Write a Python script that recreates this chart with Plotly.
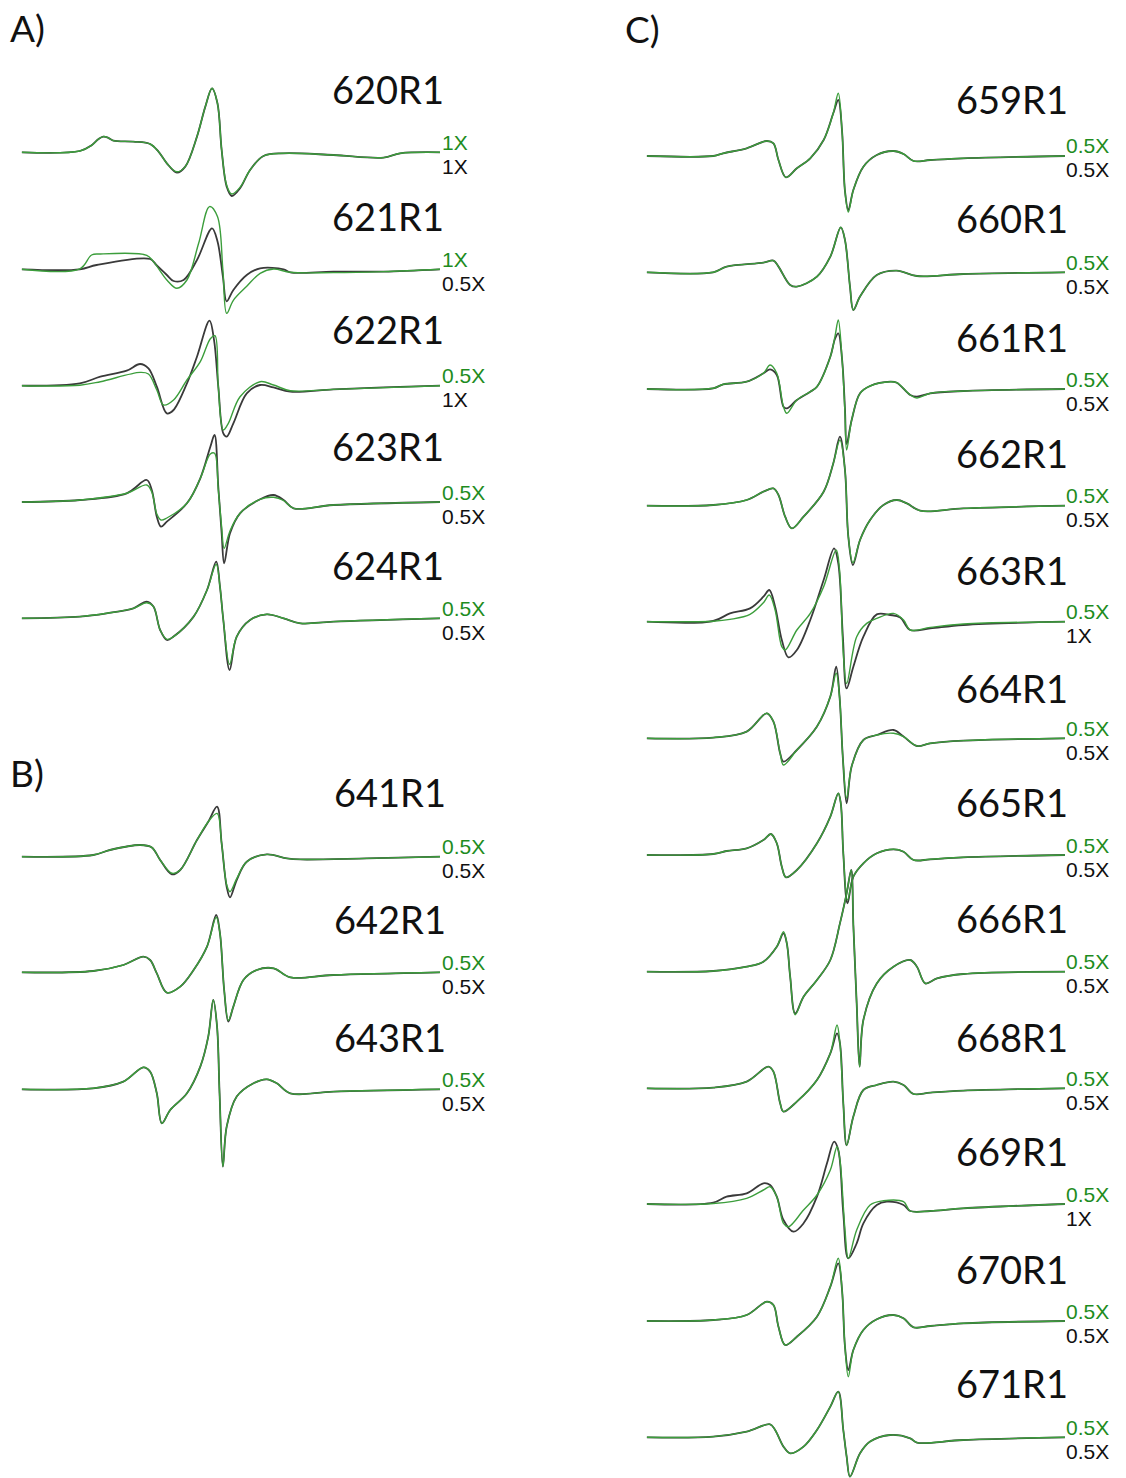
import plotly.graph_objects as go

# ---------------- data: field position (% of sweep) and derivative amplitude (a.u.) ----------------
# Panel A
S620_x = [0, 13.9, 16.7, 18.3, 19.5, 20.7, 21.9, 26.7, 30.7, 32.7, 34.7, 37.1, 39.1, 41.9, 43.9, 45.5, 46.8, 47.8, 49.0, 50.2, 52.2, 54.6, 57.8, 62.6, 74.5, 86.5, 90.5, 100]
S620_k = [0, 1.3, 7, 13, 15.7, 14.5, 11.7, 10.7, 8.3, 0.7, -11, -20.3, -14.3, 15.7, 45.7, 64, 49, 2.3, -34.3, -43.7, -36, -17.7, -3.7, -1, -2.7, -5.3, -1, 0]
S620_g = [0, 1.3, 7, 13, 15.7, 14.5, 11.7, 10.7, 8.3, 0.7, -11, -19.5, -14.3, 15.7, 45.7, 64, 49, 2.3, -33, -41.7, -35, -17.7, -3.7, -1, -2.7, -5.3, -1, 0]

S621_kx = [0, 13.9, 17.9, 30.7, 32.2, 34.7, 36.3, 38.7, 41.9, 45.5, 46.8, 48.1, 49.0, 50.6, 53.8, 57.0, 62.6, 64.2, 74.5, 86.5, 100]
S621_k = [0, 0, 4.3, 10.3, 4.3, -5.7, -11.7, -10.7, 9.3, 41, 28, -7.3, -32, -20.7, -5.7, 1, 0, -3, -2.3, -2.3, 0]
S621_gx = [0, 13.9, 16.7, 18.8, 29.9, 31.5, 34.7, 37.1, 39.5, 42.3, 44.9, 46.8, 48.1, 49.0, 50.6, 53.8, 57.0, 60.2, 64.2, 74.5, 86.5, 100]
S621_g = [0, 0.5, 14.3, 15.3, 14, 7.7, -10.7, -19, -10.7, 26, 62.7, 52.7, -0.7, -44, -31, -17, -4, 0.3, -3, -3.3, -2.3, 0]

S622_kx = [0, 13.9, 18.8, 25.1, 28.3, 30.3, 32.3, 34.7, 36.3, 39.5, 41.9, 44.9, 46.0, 47.0, 48.2, 49.0, 50.6, 53.8, 57.0, 60.2, 64.2, 74.5, 86.5, 100]
S622_k = [0, 2.3, 9, 15, 21.7, 17.3, -1, -27.7, -24.3, 2.3, 29, 65, 45, -1, -47.7, -51, -37.7, -7.7, 0.7, -1.7, -6, -3.7, -1.7, 0]
S622_gx = [0, 13.9, 18.8, 28.3, 30.3, 32.3, 33.9, 36.3, 39.5, 42.7, 45.1, 46.2, 47.0, 48.2, 49.4, 52.2, 57.0, 60.2, 64.2, 74.5, 100]
S622_g = [0, 0.5, 4, 13.3, 11.7, -4.3, -19.3, -14.3, 5.7, 24, 47, 50, -1, -44.3, -37.7, -11, 4, 0.7, -5, -3.7, 0]

S623_x = [0, 13.9, 25.1, 29.9, 31.1, 32.3, 33.3, 34.7, 39.5, 42.7, 45.1, 46.1, 47.0, 47.8, 48.4, 49.8, 52.2, 57.0, 60.2, 62.6, 65.0, 74.5, 100]
S623_k = [0, 2, 8.7, 22, 12, -14.7, -24.7, -19.7, -1.3, 23.7, 55.3, 67, 15, -31.3, -61.3, -31.3, -11.3, 2.7, 7, 2, -6.3, -3, 0]
S623_g = [0, 2, 8.7, 17, 10, -12, -18, -16, -1.3, 23.7, 48, 48.7, 12, -25, -46.3, -29, -11.3, 2.7, 4.7, 1.5, -6.3, -3, 0]

S624_x = [0, 13.9, 20.3, 26.7, 29.9, 31.5, 33.1, 34.7, 36.3, 41.1, 44.3, 46.5, 47.4, 48.2, 49.7, 51.4, 54.6, 58.6, 62.6, 66.6, 74.5, 100]
S624_k = [0, 1.7, 5, 10, 16.7, 11.7, -11.7, -21.7, -18.3, 1.7, 28.3, 56.7, 31.7, -1.7, -51.7, -18.3, -1.7, 4, 0, -5, -3.3, 0]
S624_g = [0, 1.7, 5, 10, 15.5, 11.7, -11.7, -21, -18.3, 1.7, 28.3, 54, 31.7, -1.7, -46, -18.3, -1.7, 4, 0, -5, -3.3, 0]

# Panel B
S641_x = [0, 17.1, 21.1, 28.3, 31.1, 33.1, 35.9, 37.9, 41.9, 44.6, 46.7, 47.8, 49.0, 49.8, 51.4, 53.8, 58.6, 63.4, 66.6, 82.5, 100]
S641_k = [0, 1.7, 6.7, 11.7, 9.3, -3.3, -17.7, -13.3, 16.7, 35, 50, 13.3, -30, -40.7, -23.3, -5, 2.3, -1.7, -2.7, -1.7, 0]
S641_g = [0, 1.7, 6.7, 11.7, 9.3, -3.3, -16.5, -13.3, 16.7, 35, 43.3, 13.3, -28, -35, -22, -5, 2.3, -1.7, -2.7, -1.7, 0]

S642_x = [0, 17.1, 24.3, 29.1, 30.7, 32.3, 34.7, 37.9, 41.1, 44.3, 46.5, 47.4, 48.4, 49.4, 50.6, 53.0, 56.2, 60.2, 64.2, 74.5, 100]
S642_k = [0, 1.3, 7.3, 15.7, 12.3, -1, -20.3, -14.3, 2.3, 25.7, 57.3, 39, -17.7, -49.3, -34.3, -7.7, 2.3, 4, -5, -2.7, 0]
S642_g = [0, 1.3, 7.3, 15.7, 12.3, -1, -20.3, -14.3, 2.3, 25.7, 55, 39, -17.7, -48, -34.3, -7.7, 2.3, 4, -5, -2.7, 0]

S643_x = [0, 17.1, 24.3, 29.1, 30.7, 32.3, 33.5, 35.5, 39.5, 42.7, 44.6, 45.8, 46.7, 47.3, 48.1, 49.0, 51.4, 55.4, 58.6, 61.0, 64.2, 74.5, 100]
S643_k = [0, 1, 7.7, 22, 17.7, -4, -34, -20.7, -4, 22.7, 52.7, 89.3, 62.7, -4, -77.3, -37.3, -7.3, 6, 10, 6, -4, -2.3, 0]
S643_g = [0, 1, 7.7, 22, 17.7, -4, -34, -20.7, -4, 22.7, 52.7, 89.3, 62.7, -4, -77.3, -37.3, -7.3, 6, 10, 6, -4, -2.3, 0]

# Panel C
S659_x = [0, 15.9, 18.3, 23.9, 28.7, 30.3, 31.5, 33.3, 35.9, 39.1, 42.3, 44.6, 45.8, 46.7, 47.4, 48.2, 49.4, 51.8, 55.0, 59.0, 61.4, 63.8, 67.8, 75.7, 100]
S659_k = [0, 0, 2.7, 7.7, 15, 12.7, -4, -21.3, -12.3, -2.3, 16, 42.7, 56, 25, -35, -54, -34, -10.7, 1, 5, 2, -5, -4, -2.3, 0]
S659_g = [0, 0, 2.7, 7.7, 15, 12.7, -4, -21.3, -12.3, -2.3, 16, 42.7, 62.7, 25, -35, -56, -34, -10.7, 1, 5, 2, -5, -4, -2.3, 0]

S660_x = [0, 15.9, 19.1, 27.9, 30.3, 31.5, 34.3, 35.9, 40.7, 43.9, 46.4, 47.4, 48.6, 49.4, 51.0, 55.0, 59.8, 64.6, 75.7, 100]
S660_k = [0, 0, 5.7, 9.7, 11.7, 5.7, -12.7, -14.3, -4.3, 15.7, 45, 32.3, -14.3, -37.7, -24.3, -2.7, 1.7, -3.7, -1.7, 0]
S660_g = [0, 0, 5.7, 9.7, 11.7, 5.7, -12.7, -14.3, -4.3, 15.7, 45, 32.3, -14.3, -37.7, -24.3, -2.7, 1.7, -3.7, -1.7, 0]

S661_x = [0, 15.9, 18.3, 23.9, 27.9, 29.5, 31.1, 32.7, 33.5, 35.9, 39.1, 40.7, 43.9, 45.0, 45.8, 46.7, 47.4, 47.8, 49.0, 51.0, 53.4, 58.2, 59.8, 63.0, 64.6, 67.8, 75.7, 100]
S661_k = [0, 0.7, 4.7, 7.3, 15.7, 19.7, 14, -17.7, -19.3, -11, -2.7, 2.3, 32.3, 50, 55.7, 30, -20, -55, -31, -4.3, 3, 7.3, 6.3, -6, -7.7, -4.3, -2, 0]
S661_g = [0, 0.7, 4.7, 7.3, 15.7, 24, 15.7, -17.7, -24.3, -11, -2.7, 2.3, 32.3, 52.3, 69, 30, -24, -61, -31, -4.3, 3, 7.3, 6.3, -6, -9, -4.3, -2, 0]

S662_x = [0, 15.9, 23.9, 27.9, 30.3, 31.5, 33.1, 34.7, 37.5, 42.3, 44.6, 46.2, 47.4, 48.2, 49.3, 51.0, 53.4, 56.6, 59.8, 62.2, 65.4, 75.7, 100]
S662_k = [0, 0.7, 5.7, 14, 17.3, 10.7, -11, -22.7, -11, 14, 42.3, 69, 35.7, -31, -59.3, -34.3, -14.3, 0.7, 5.7, 2.3, -5, -2.7, 0]
S662_g = [0, 0.7, 5.7, 14, 17.3, 10.7, -11, -22.7, -11, 14, 42.3, 65.7, 35.7, -31, -57, -34.3, -14.3, 0.7, 5.7, 2.3, -5, -2.7, 0]

S663_kx = [0, 15.9, 19.9, 24.7, 27.9, 29.3, 30.7, 32.3, 33.9, 35.9, 39.1, 42.3, 44.8, 45.8, 46.9, 47.8, 49.4, 51.8, 55.0, 58.2, 60.6, 63.0, 67.8, 75.7, 100]
S663_k = [0, 0.7, 8.3, 13.3, 25, 31.7, 15, -18.3, -35.7, -28.3, 1.7, 41.7, 73.3, 58.3, -15, -66.7, -45, -15, 7.3, 6.7, 4.3, -8.3, -6.7, -3.3, 0]
S663_gx = [0, 15.9, 19.9, 24.7, 27.9, 29.3, 30.7, 32.3, 33.1, 35.9, 39.1, 42.3, 45.3, 46.1, 47.0, 47.8, 50.2, 52.6, 55.0, 59.0, 61.4, 63.0, 67.8, 75.7, 100]
S663_g = [0, 0.5, 2.3, 7.3, 19, 26.7, 11.7, -25, -28.3, -8.3, 8.3, 35, 71.7, 51.7, -31.7, -61.7, -15, -1.7, 3.3, 8.3, 1.7, -8.3, -5.7, -2.3, 0]

S664_x = [0, 15.9, 23.9, 28.7, 30.3, 31.9, 32.7, 35.9, 40.7, 43.9, 45.3, 46.1, 46.9, 47.8, 49.0, 51.8, 55.0, 59.0, 61.4, 64.6, 67.8, 75.7, 100]
S664_k = [0, 0.7, 6.7, 25, 16.7, -15, -23.3, -11.7, 11.7, 41.7, 71.7, 41.7, -20, -65, -28, -1.7, 3.3, 8.3, 1.7, -7.7, -5, -2.3, 0]
S664_g = [0, 0.7, 6.7, 25, 16.7, -15, -26.7, -11.7, 11.7, 41.7, 65, 41.7, -20, -60, -28, -1.7, 3.3, 5, 1.7, -7.7, -5, -2.3, 0]

S665_x = [0, 15.9, 19.1, 23.9, 27.9, 29.7, 31.1, 32.3, 33.3, 35.9, 40.7, 43.9, 45.8, 46.4, 47.0, 48.0, 49.4, 51.8, 55.0, 59.0, 61.4, 63.8, 67.8, 75.7, 100]
S665_k = [0, 1, 4, 6.7, 15, 21, 11.7, -11.7, -22.3, -15, 11.7, 38.3, 61.7, 51.7, 1.7, -48.3, -21.7, -8.3, 1.7, 5.7, 3.3, -5, -4.3, -2.3, 0]
S665_g = [0, 1, 4, 6.7, 15, 21, 11.7, -11.7, -22.3, -15, 11.7, 38.3, 61.7, 51.7, 1.7, -45, -21.7, -8.3, 1.7, 5.7, 3.3, -5, -4.3, -2.3, 0]

S666_x = [0, 15.9, 23.9, 27.9, 31.1, 32.7, 33.5, 34.3, 35.5, 37.5, 40.7, 43.9, 46.2, 47.8, 48.9, 49.4, 50.2, 50.9, 51.8, 55.0, 59.0, 63.0, 64.6, 66.6, 69.4, 75.7, 100]
S666_k = [0, 0.7, 5, 10, 25, 38.3, 28.3, -5, -41.7, -25, -8.3, 11.7, 48.3, 78.3, 101.7, 47, -32, -95, -48.3, -11.7, 5, 11.7, 5, -11.7, -6.7, -2.3, 0]
S666_g = [0, 0.7, 5, 10, 25, 40, 28.3, -5, -43, -25, -8.3, 11.7, 48.3, 78.3, 101.7, 47, -32, -95, -48.3, -11.7, 5, 11.7, 5, -11.7, -6.7, -2.3, 0]

S668_x = [0, 15.9, 23.9, 29.1, 30.3, 31.9, 32.7, 35.9, 40.7, 43.9, 45.5, 46.2, 47.0, 47.8, 49.4, 51.8, 55.0, 59.0, 61.4, 63.8, 67.8, 75.7, 100]
S668_k = [0, 0.7, 6.7, 21.7, 16.7, -15, -23.3, -13.3, 8.3, 35, 55, 45, -15, -57, -28.3, -1.7, 3.3, 6.7, 3.3, -5.7, -4.3, -2.3, 0]
S668_g = [0, 0.7, 6.7, 21.7, 16.7, -15, -23.3, -13.3, 8.3, 35, 63.3, 45, -15, -57, -28.3, -1.7, 3.3, 6.7, 3.3, -5.7, -4.3, -2.3, 0]

S669_kx = [0, 15.9, 19.1, 23.9, 27.9, 29.5, 31.1, 32.7, 35.1, 37.5, 40.7, 43.1, 44.8, 45.8, 47.0, 48.2, 50.2, 51.8, 55.0, 57.4, 61.4, 63.0, 67.8, 75.7, 100]
S669_k = [0, 1.3, 7.3, 10.7, 20.7, 19, 7.3, -16, -27.7, -19.3, 7.3, 40.7, 62.3, 54, -9.3, -54.3, -39.3, -19.3, -1, 2.3, -1, -7, -7, -4.3, 0]
S669_gx = [0, 15.9, 23.9, 27.9, 29.5, 31.1, 32.7, 33.9, 37.5, 40.7, 43.9, 45.5, 46.2, 47.4, 48.2, 50.2, 53.4, 56.6, 61.4, 63.0, 67.8, 75.7, 100]
S669_g = [0, 0.5, 5.7, 14, 17.3, 7.3, -19.3, -22.7, -6, 9, 34, 57.3, 44, -26, -54.3, -26, -1, 3.3, 2.3, -7, -7, -4.3, 0]

S670_x = [0, 15.9, 23.9, 28.7, 30.3, 31.5, 33.1, 35.9, 40.7, 43.9, 45.8, 46.7, 47.4, 48.2, 49.4, 51.8, 55.0, 59.0, 61.4, 63.8, 67.8, 75.7, 100]
S670_k = [0, 1, 6, 19.3, 16, -5.7, -24, -15.7, 4.3, 34.3, 57.7, 31, -25.7, -49, -29, -9, 1.7, 6, 2.7, -6.3, -5, -2.3, 0]
S670_g = [0, 1, 6, 19.3, 16, -5.7, -24, -15.7, 4.3, 34.3, 62.7, 31, -25.7, -55.7, -29, -9, 1.7, 6, 2.7, -6.3, -5, -2.3, 0]

S671_x = [0, 15.9, 23.9, 29.5, 30.7, 32.7, 34.3, 37.5, 40.7, 43.9, 45.8, 47.0, 47.8, 48.6, 51.0, 53.4, 58.2, 63.0, 64.6, 75.7, 100]
S671_k = [0, 0.7, 5.7, 13, 7.3, -9.3, -16, -9.3, 7.3, 30.7, 45.7, 7.3, -19.3, -39.3, -16, -4.3, 2.3, -1, -5.3, -2.7, 0]
S671_g = [0, 0.7, 5.7, 13, 7.3, -9.3, -16, -9.3, 7.3, 30.7, 45.7, 7.3, -19.3, -39.3, -16, -4.3, 2.3, -1, -5.3, -2.7, 0]

# sample names and scale factors (green / black)
NAMES_LEFT = ["620R1", "621R1", "622R1", "623R1", "624R1", "641R1", "642R1", "643R1"]
GREEN_SCALE_LEFT = ["1X", "1X", "0.5X", "0.5X", "0.5X", "0.5X", "0.5X", "0.5X"]
BLACK_SCALE_LEFT = ["1X", "0.5X", "1X", "0.5X", "0.5X", "0.5X", "0.5X", "0.5X"]
NAMES_RIGHT = ["659R1", "660R1", "661R1", "662R1", "663R1", "664R1", "665R1", "666R1", "668R1", "669R1", "670R1", "671R1"]
GREEN_SCALE_RIGHT = ["0.5X"] * 12
BLACK_SCALE_RIGHT = ["0.5X", "0.5X", "0.5X", "0.5X", "1X", "0.5X", "0.5X", "0.5X", "0.5X", "1X", "0.5X", "0.5X"]
PANEL_LETTERS = ["A)", "B)", "C)"]

# ---------------- layout (positions in page pixels) ----------------
W, H = 1126, 1478
BASE_LEFT = [152.3, 269.3, 385.7, 502, 618.3, 856.7, 972.3, 1089.3]
BASE_RIGHT = [156, 272.3, 389, 505.7, 621.7, 738.3, 855, 971.7, 1088.3, 1204, 1321, 1437.3]
NAME_Y_LEFT = [89, 216, 329, 446, 564.5, 791.5, 919, 1036.6]
NAME_Y_RIGHT = [99, 218, 336.7, 452.5, 570, 687.5, 801.7, 918.3, 1036.7, 1151, 1269, 1382.5]
NAME_X_LEFT = [388, 388, 388, 388, 388, 390, 390, 390]
NAME_X_RIGHT = 1012
LETTER_POS = [(8, 27), (8, 772), (623, 28)]
GREEN_LBL_DY = -10
BLACK_LBL_DY = 14

left_spectra = [
    (S620_x, S620_k, S620_x, S620_g),
    (S621_kx, S621_k, S621_gx, S621_g),
    (S622_kx, S622_k, S622_gx, S622_g),
    (S623_x, S623_k, S623_x, S623_g),
    (S624_x, S624_k, S624_x, S624_g),
    (S641_x, S641_k, S641_x, S641_g),
    (S642_x, S642_k, S642_x, S642_g),
    (S643_x, S643_k, S643_x, S643_g),
]
right_spectra = [
    (S659_x, S659_k, S659_x, S659_g),
    (S660_x, S660_k, S660_x, S660_g),
    (S661_x, S661_k, S661_x, S661_g),
    (S662_x, S662_k, S662_x, S662_g),
    (S663_kx, S663_k, S663_gx, S663_g),
    (S664_x, S664_k, S664_x, S664_g),
    (S665_x, S665_k, S665_x, S665_g),
    (S666_x, S666_k, S666_x, S666_g),
    (S668_x, S668_k, S668_x, S668_g),
    (S669_kx, S669_k, S669_gx, S669_g),
    (S670_x, S670_k, S670_x, S670_g),
    (S671_x, S671_k, S671_x, S671_g),
]

BLACK = "#3a3a3a"
GREEN = "#3c9e3c"
GREEN_TXT = "#1e8c1e"
LINE_SHAPE = dict(shape="spline", smoothing=1.0)

fig = go.Figure()


def add_spectra(spectra, bases, xa):
    for (kx, ky, gx, gy), b in zip(spectra, bases):
        fig.add_trace(go.Scatter(x=kx, y=[v - b for v in ky], mode="lines", xaxis=xa, yaxis="y",
                                 line=dict(color=BLACK, width=1.8, **LINE_SHAPE), hoverinfo="skip"))
        fig.add_trace(go.Scatter(x=gx, y=[v - b for v in gy], mode="lines", xaxis=xa, yaxis="y",
                                 line=dict(color=GREEN, width=1.4, **LINE_SHAPE), hoverinfo="skip"))


add_spectra(left_spectra, BASE_LEFT, "x")
add_spectra(right_spectra, BASE_RIGHT, "x2")

ann = []


def px(xp):
    return xp / W


def py(yp):
    return 1 - yp / H


NAME_FONT = dict(family="Lato, 'Open Sans', sans-serif", size=38, color="#111111")
SCALE_FONT = dict(family="'Liberation Sans', Arial, sans-serif", size=21)

for name, gs, ks, b, ny, nx in zip(NAMES_LEFT, GREEN_SCALE_LEFT, BLACK_SCALE_LEFT, BASE_LEFT, NAME_Y_LEFT, NAME_X_LEFT):
    ann.append(dict(x=px(nx), y=py(ny), text=name, font=NAME_FONT, xanchor="center", yanchor="middle"))
    ann.append(dict(x=px(441), y=py(b + GREEN_LBL_DY), text=gs, font=dict(SCALE_FONT, color=GREEN_TXT), xanchor="left", yanchor="middle", borderpad=0))
    ann.append(dict(x=px(441), y=py(b + BLACK_LBL_DY), text=ks, font=dict(SCALE_FONT, color="#111111"), xanchor="left", yanchor="middle", borderpad=0))

for name, gs, ks, b, ny in zip(NAMES_RIGHT, GREEN_SCALE_RIGHT, BLACK_SCALE_RIGHT, BASE_RIGHT, NAME_Y_RIGHT):
    ann.append(dict(x=px(NAME_X_RIGHT), y=py(ny), text=name, font=NAME_FONT, xanchor="center", yanchor="middle"))
    ann.append(dict(x=px(1065), y=py(b + GREEN_LBL_DY), text=gs, font=dict(SCALE_FONT, color=GREEN_TXT), xanchor="left", yanchor="middle", borderpad=0))
    ann.append(dict(x=px(1065), y=py(b + BLACK_LBL_DY), text=ks, font=dict(SCALE_FONT, color="#111111"), xanchor="left", yanchor="middle", borderpad=0))

for letter, (lx, ly) in zip(PANEL_LETTERS, LETTER_POS):
    ann.append(dict(x=px(lx), y=py(ly), text=letter, font=dict(NAME_FONT, size=37), xanchor="left", yanchor="middle"))

for a in ann:
    a.update(xref="paper", yref="paper", showarrow=False)

hidden = dict(visible=False, showgrid=False, zeroline=False, fixedrange=True)
fig.update_layout(
    width=W, height=H,
    margin=dict(l=0, r=0, t=0, b=0),
    paper_bgcolor="white", plot_bgcolor="white",
    showlegend=False,
    xaxis=dict(domain=[21.7 / W, 440 / W], range=[0, 100], anchor="y", **hidden),
    xaxis2=dict(domain=[646.7 / W, 1065 / W], range=[0, 100], anchor="y", **hidden),
    yaxis=dict(domain=[0, 1], range=[-H, 0], anchor="x", **hidden),
    annotations=ann,
)

fig.write_html("out.html", config={"displayModeBar": False},
               post_script="document.body.style.margin='0';document.body.style.padding='0';document.body.style.overflow='hidden';")
